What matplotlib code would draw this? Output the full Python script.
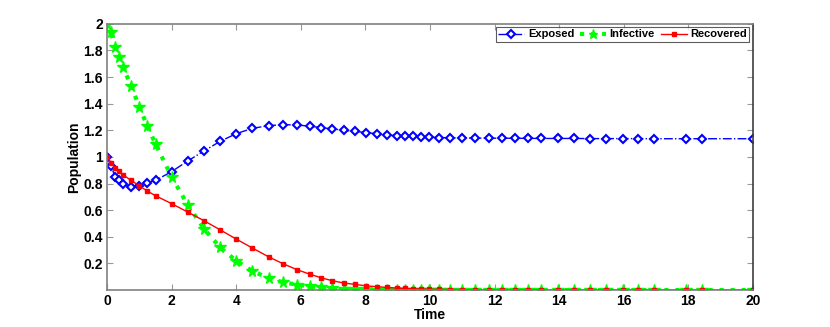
import matplotlib
matplotlib.use("Agg")
import matplotlib.pyplot as plt
from matplotlib.ticker import FormatStrFormatter

# solver output times (shared by all three curves)
t = [0, 0.12, 0.25, 0.36, 0.49, 0.74, 1.0, 1.25, 1.5, 2.0, 2.5, 3.0, 3.5, 4.0,
     4.5, 5.0, 5.45, 5.88, 6.27, 6.63, 6.98, 7.33, 7.69, 8.02, 8.36, 8.66,
     8.97, 9.22, 9.47, 9.73, 9.98, 10.29, 10.63, 11.0, 11.41, 11.82, 12.22,
     12.62, 13.03, 13.45, 13.98, 14.45, 14.97, 15.46, 15.97, 16.45, 16.95,
     17.93, 18.43, 20.0]

exposed = [1.0, 0.934, 0.85, 0.824, 0.80, 0.774, 0.784, 0.804, 0.824, 0.89,
           0.97, 1.045, 1.117, 1.175, 1.215, 1.235, 1.243, 1.24, 1.232, 1.22,
           1.211, 1.2, 1.192, 1.183, 1.174, 1.165, 1.16, 1.156, 1.154, 1.151,
           1.148, 1.146, 1.144, 1.143, 1.142, 1.141, 1.141, 1.140, 1.140,
           1.139, 1.139, 1.139, 1.138, 1.138, 1.138, 1.138, 1.137, 1.137,
           1.137, 1.137]

infective = [2.0, 1.937, 1.824, 1.752, 1.677, 1.536, 1.376, 1.23, 1.098, 0.85,
             0.639, 0.461, 0.32, 0.22, 0.143, 0.09, 0.058, 0.041, 0.028,
             0.02, 0.014, 0.01, 0.008, 0.006, 0.004, 0.003, 0.002, 0.002,
             0.001, 0.001, 0.001, 0.001, 0.0, 0.0, 0.0, 0.0, 0.0, 0.0, 0.0,
             0.0, 0.0, 0.0, 0.0, 0.0, 0.0, 0.0, 0.0, 0.0, 0.0, 0.0]

recovered = [1.0, 0.958, 0.917, 0.893, 0.867, 0.824, 0.784, 0.743, 0.709,
             0.649, 0.586, 0.521, 0.453, 0.383, 0.316, 0.25, 0.198, 0.153,
             0.12, 0.092, 0.07, 0.053, 0.042, 0.032, 0.025, 0.02, 0.015,
             0.012, 0.01, 0.008, 0.006, 0.005, 0.004, 0.003, 0.002, 0.002,
             0.001, 0.001, 0.001, 0.0, 0.0, 0.0, 0.0, 0.0, 0.0, 0.0, 0.0,
             0.0, 0.0, 0.0]

plt.rcParams['font.family'] = 'Liberation Sans'
plt.rcParams['font.weight'] = 'bold'

fig = plt.figure(figsize=(8.3, 3.27), dpi=100)
ax = fig.add_axes([0.129, 0.113, 0.778, 0.814])

ax.plot(t, exposed, color='#0000ff', ls='-.', lw=1.0, marker='D', ms=4.5,
        mfc='white', mec='#0000ff', mew=1.5, label='Exposed')
ax.plot(t, infective, color='#00ff00', ls=':', lw=3.0, marker='*', ms=8.5,
        mfc='#00ff00', mec='#00ff00', label='Infective')
ax.plot(t, recovered, color='#ff0000', ls='-', lw=1.0, marker='s', ms=3,
        mfc='#ff0000', mec='#ff0000', label='Recovered')

ax.set_xlim(0, 20)
ax.set_ylim(0, 2)
ax.set_xticks(range(0, 21, 2))
ax.set_yticks([0.2, 0.4, 0.6, 0.8, 1.0, 1.2, 1.4, 1.6, 1.8, 2.0])
ax.yaxis.set_major_formatter(FormatStrFormatter('%g'))
ax.tick_params(direction='in', length=4, color='#999999', labelsize=10,
               top=True, right=True, pad=3)
for lab in ax.get_xticklabels() + ax.get_yticklabels():
    lab.set_fontweight('bold')
for side in ['left', 'bottom', 'top']:
    ax.spines[side].set_color('#808080')
    ax.spines[side].set_linewidth(1.2)
ax.spines['right'].set_color('#404040')
ax.spines['right'].set_linewidth(1.2)

ax.set_xlabel('Time', fontsize=10, fontweight='bold', labelpad=0)
ax.set_ylabel('Population', fontsize=10, fontweight='bold', labelpad=2)

leg = ax.legend(loc='upper right', ncol=3, frameon=True, numpoints=1,
                fancybox=False, borderpad=0.2, handlelength=2.4,
                handletextpad=0.3, columnspacing=0.5, borderaxespad=0.3,
                markerscale=0.8, prop={'weight': 'bold', 'size': 8})
leg.get_frame().set_edgecolor('#333333')
leg.get_frame().set_linewidth(0.8)

fig.savefig('out.png', dpi=100)
